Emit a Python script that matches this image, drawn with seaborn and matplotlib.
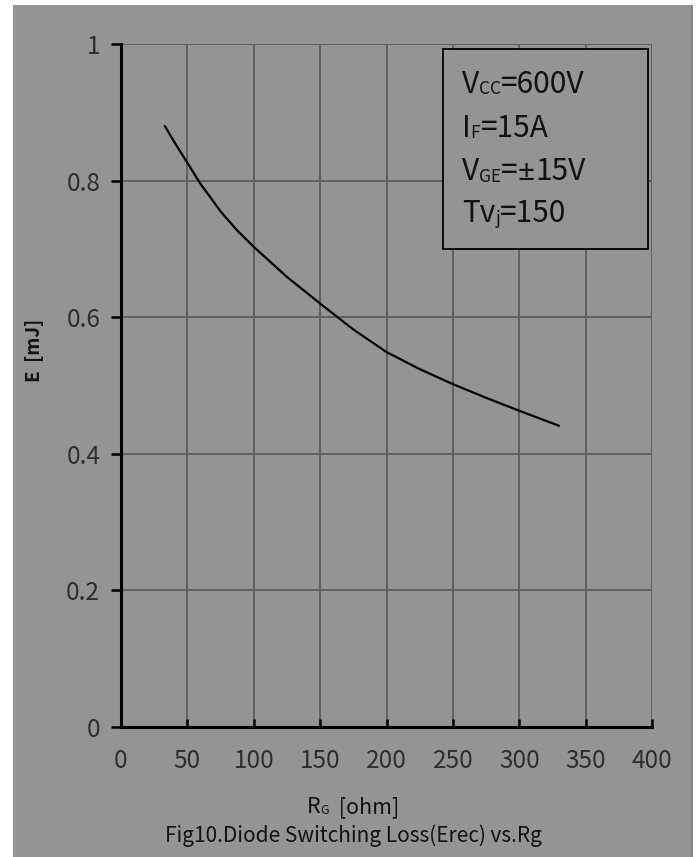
import matplotlib
matplotlib.use("Agg")
import matplotlib.pyplot as plt
import seaborn as sns
import pandas as pd
from matplotlib.patches import Rectangle

# ---- data ----
rg = [33, 40, 50, 60, 75, 87.5, 100, 125, 150, 175, 200, 225, 250, 275, 300, 330]
erec = [0.880, 0.857, 0.826, 0.795, 0.755, 0.727, 0.703, 0.659, 0.620, 0.582,
        0.549, 0.524, 0.502, 0.482, 0.463, 0.441]
x_ticks = [0, 50, 100, 150, 200, 250, 300, 350, 400]
y_ticks = [0, 0.2, 0.4, 0.6, 0.8, 1]
y_tick_labels = ["0", "0.2", "0.4", "0.6", "0.8", "1"]
cond_lines = [[("V", False), ("CC", True), ("=600V", False)],
              [("I", False), ("F", True), ("=15A", False)],
              [("V", False), ("GE", True), ("=", False), ("±", "alt"), ("15V", False)],
              [("Tv", False), ("j", True), ("=150", False)]]
x_label = [("R", False), ("G", True), ("  [ohm]", False)]
y_label = "E  [mJ]"
caption = "Fig10.Diode Switching Loss(Erec) vs.Rg"

sns.set_theme(style="white")
plt.rcParams['font.family'] = ['Noto Sans CJK SC', 'DejaVu Sans']

W, H = 699, 857
BG = "#949494"
fig = plt.figure(figsize=(W / 100, H / 100), dpi=100)
fig.patch.set_facecolor("white")
fig.add_artist(Rectangle((13 / W, 0), (692 - 13) / W, (857 - 5) / H,
                         transform=fig.transFigure, facecolor=BG,
                         edgecolor="none", zorder=0))
fig.add_artist(Rectangle((691 / W, 0), 1.5 / W, (857 - 5) / H,
                         transform=fig.transFigure, facecolor="#888888",
                         edgecolor="none", zorder=0))

def fx(px):
    return px / W

def fy(py):
    return 1 - py / H

ax = fig.add_axes([fx(121), fy(727), fx(652) - fx(121), fy(44) - fy(727)])
ax.set_facecolor(BG)

df = pd.DataFrame({"RG": rg, "E": erec})
sns.lineplot(data=df, x="RG", y="E", ax=ax, color="black", linewidth=1.6,
             zorder=5)

ax.set_xlim(0, 400)
ax.set_ylim(0, 1)
ax.set_xticks(x_ticks)
ax.set_yticks(y_ticks)
ax.set_yticklabels(y_tick_labels)
ax.grid(True, color="#5c5c5c", linewidth=1.3)
ax.set_axisbelow(True)
for s in ["top", "right"]:
    ax.spines[s].set_visible(False)
for s in ["left", "bottom"]:
    ax.spines[s].set_color("black")
    ax.spines[s].set_linewidth(2.2)
ax.tick_params(axis="y", direction="out", length=7, width=1.8, color="black",
               pad=8, labelsize=17.5, labelcolor="#2e2e2e", left=True)
ax.tick_params(axis="x", direction="in", length=6, width=1.8, color="black",
               pad=15, labelsize=17.5, labelcolor="#2e2e2e", bottom=True)
for lab in ax.get_xticklabels() + ax.get_yticklabels():
    lab.set_fontweight("light")
ax.set_xlabel("")
ax.set_ylabel("")

renderer = fig.canvas.get_renderer()

def sub_text(x_px, base_px, parts, size, ha="left", color="#111111", z=7):
    specs = []
    for t, kind in parts:
        is_sub = kind is True
        s = size * 0.58 if is_sub else size
        fam = ['Noto Sans', 'DejaVu Sans'] if kind == "alt" else None
        kw = {"fontsize": s}
        if fam:
            kw["family"] = fam
        tt = fig.text(0, 0, t, **kw)
        w = tt.get_window_extent(renderer).width
        tt.remove()
        specs.append((t, is_sub, kw, w))
    total = sum(sp[3] for sp in specs)
    x = x_px - (total / 2 if ha == "center" else 0)
    for t, is_sub, kw, w in specs:
        off = 1.5 if is_sub else 0
        fig.text(fx(x), fy(base_px + off), t, color=color,
                 va="baseline", ha="left", zorder=z, **kw)
        x += w

# conditions box
fig.add_artist(Rectangle((fx(443), fy(249)), fx(648) - fx(443), fy(49) - fy(249),
                         transform=fig.transFigure, facecolor=BG,
                         edgecolor="black", linewidth=1.3, zorder=6))
for parts, base in zip(cond_lines, [93, 137, 180, 222]):
    sub_text(462, base, parts, 21.5)

sub_text(353, 813, x_label, 15.5, ha="center")
fig.text(fx(35), fy(350), y_label, fontsize=13.5, color="#111111",
         fontweight="bold", rotation=90, ha="center", va="center")
fig.text(fx(353), fy(836), caption, fontsize=15, color="#111111",
         ha="center", va="center")

fig.savefig("out.png", dpi=100, facecolor=fig.get_facecolor())
